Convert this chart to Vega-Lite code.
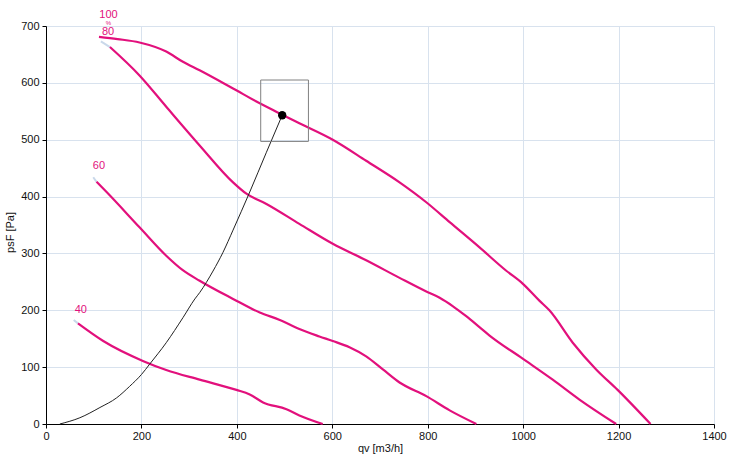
{
  "$schema": "https://vega.github.io/schema/vega-lite/v6.json",
  "width": 668,
  "height": 398,
  "autosize": {"type": "none"},
  "padding": {"left": 46, "top": 26, "right": 18, "bottom": 30},
  "background": "white",
  "config": {
    "view": {"stroke": null},
    "font": "Liberation Sans",
    "axis": {
      "labelFont": "Liberation Sans",
      "titleFont": "Liberation Sans",
      "labelFontSize": 11,
      "titleFontSize": 11,
      "titleFontWeight": "normal",
      "labelColor": "#111",
      "titleColor": "#111",
      "domainColor": "#000",
      "tickColor": "#000",
      "tickSize": 4,
      "gridColor": "#d8e2ee",
      "gridOpacity": 1
    }
  },
  "datasets": {
    "fan": [
      {"s": "100", "q": 111, "p": 681}, {"s": "100", "q": 150, "p": 677}, {"s": "100", "q": 196, "p": 671}, {"s": "100", "q": 252, "p": 655}, {"s": "100", "q": 287, "p": 637}, {"s": "100", "q": 322, "p": 622}, {"s": "100", "q": 392, "p": 590}, {"s": "100", "q": 448, "p": 564}, {"s": "100", "q": 495, "p": 544}, {"s": "100", "q": 531, "p": 529}, {"s": "100", "q": 601, "p": 500}, {"s": "100", "q": 671, "p": 463}, {"s": "100", "q": 741, "p": 425}, {"s": "100", "q": 797, "p": 390}, {"s": "100", "q": 846, "p": 355}, {"s": "100", "q": 908, "p": 311}, {"s": "100", "q": 964, "p": 270}, {"s": "100", "q": 999, "p": 247}, {"s": "100", "q": 1034, "p": 217}, {"s": "100", "q": 1055, "p": 200}, {"s": "100", "q": 1104, "p": 143}, {"s": "100", "q": 1153, "p": 96}, {"s": "100", "q": 1198, "p": 60}, {"s": "100", "q": 1267, "p": 0},
      {"s": "80", "q": 134, "p": 663}, {"s": "80", "q": 196, "p": 613}, {"s": "80", "q": 252, "p": 558}, {"s": "80", "q": 322, "p": 490}, {"s": "80", "q": 392, "p": 425}, {"s": "80", "q": 420, "p": 405}, {"s": "80", "q": 462, "p": 387}, {"s": "80", "q": 531, "p": 352}, {"s": "80", "q": 601, "p": 317}, {"s": "80", "q": 671, "p": 288}, {"s": "80", "q": 741, "p": 257}, {"s": "80", "q": 797, "p": 233}, {"s": "80", "q": 825, "p": 222}, {"s": "80", "q": 853, "p": 207}, {"s": "80", "q": 880, "p": 190}, {"s": "80", "q": 909, "p": 170}, {"s": "80", "q": 929, "p": 156}, {"s": "80", "q": 999, "p": 115}, {"s": "80", "q": 1062, "p": 78}, {"s": "80", "q": 1118, "p": 43}, {"s": "80", "q": 1195, "p": 0},
      {"s": "60", "q": 106, "p": 426}, {"s": "60", "q": 127, "p": 408}, {"s": "60", "q": 196, "p": 346}, {"s": "60", "q": 252, "p": 296}, {"s": "60", "q": 286, "p": 271}, {"s": "60", "q": 322, "p": 252}, {"s": "60", "q": 392, "p": 220}, {"s": "60", "q": 448, "p": 196}, {"s": "60", "q": 490, "p": 183}, {"s": "60", "q": 531, "p": 167}, {"s": "60", "q": 573, "p": 154}, {"s": "60", "q": 601, "p": 146}, {"s": "60", "q": 636, "p": 135}, {"s": "60", "q": 671, "p": 119}, {"s": "60", "q": 706, "p": 96}, {"s": "60", "q": 741, "p": 73}, {"s": "60", "q": 797, "p": 49}, {"s": "60", "q": 846, "p": 24}, {"s": "60", "q": 902, "p": 0},
      {"s": "40", "q": 67, "p": 177}, {"s": "40", "q": 120, "p": 146}, {"s": "40", "q": 203, "p": 111}, {"s": "40", "q": 252, "p": 95}, {"s": "40", "q": 322, "p": 78}, {"s": "40", "q": 399, "p": 60}, {"s": "40", "q": 427, "p": 52}, {"s": "40", "q": 455, "p": 38}, {"s": "40", "q": 504, "p": 26}, {"s": "40", "q": 531, "p": 15}, {"s": "40", "q": 580, "p": 0}
    ],
    "stubs": [
      {"s": "80", "q": 115, "p": 673}, {"s": "80", "q": 134, "p": 663},
      {"s": "60", "q": 99, "p": 434}, {"s": "60", "q": 106, "p": 426},
      {"s": "40", "q": 58, "p": 183}, {"s": "40", "q": 67, "p": 177}
    ],
    "sys": [
      {"q": 29, "p": 0}, {"q": 71, "p": 11}, {"q": 113, "p": 29}, {"q": 148, "p": 46}, {"q": 175, "p": 66}, {"q": 200, "p": 87}, {"q": 217, "p": 105}, {"q": 252, "p": 143}, {"q": 287, "p": 187}, {"q": 312, "p": 220}, {"q": 322, "p": 231}, {"q": 350, "p": 269}, {"q": 371, "p": 302}, {"q": 392, "p": 341}, {"q": 427, "p": 408}, {"q": 462, "p": 478}, {"q": 495, "p": 543}
    ],
    "box": [{"q1": 450, "q2": 550, "p1": 497, "p2": 605}],
    "op": [{"q": 495, "p": 543}],
    "labels": [
      {"t": "100", "q": 131, "p": 720, "fs": 11},
      {"t": "%", "q": 131, "p": 706, "fs": 6},
      {"t": "80", "q": 130, "p": 690, "fs": 11},
      {"t": "60", "q": 111, "p": 453, "fs": 11},
      {"t": "40", "q": 73, "p": 200, "fs": 11}
    ]
  },
  "layer": [
    {
      "data": {"name": "stubs"},
      "mark": {"type": "line", "color": "#c9d8ea", "strokeWidth": 2},
      "encoding": {
        "x": {"field": "q", "type": "quantitative", "scale": {"domain": [0, 1400]},
          "axis": {"values": [0, 200, 400, 600, 800, 1000, 1200, 1400], "format": "d", "title": "qv [m3/h]", "labelPadding": 2, "titlePadding": 1, "labelFlush": false}},
        "y": {"field": "p", "type": "quantitative", "scale": {"domain": [0, 700]},
          "axis": {"values": [0, 100, 200, 300, 400, 500, 600, 700], "format": "d", "title": "psF [Pa]", "labelPadding": 3, "titleX": -36, "titleY": 206, "titleAngle": 270, "titleAlign": "center", "titleBaseline": "middle"}},
        "detail": {"field": "s"}
      }
    },
    {
      "data": {"name": "fan"},
      "mark": {"type": "line", "color": "#e2107c", "strokeWidth": 2.2, "interpolate": "monotone"},
      "encoding": {
        "x": {"field": "q", "type": "quantitative"},
        "y": {"field": "p", "type": "quantitative"},
        "detail": {"field": "s"}
      }
    },
    {
      "data": {"name": "sys"},
      "mark": {"type": "line", "color": "#222", "strokeWidth": 1, "interpolate": "monotone"},
      "encoding": {
        "x": {"field": "q", "type": "quantitative"},
        "y": {"field": "p", "type": "quantitative"}
      }
    },
    {
      "data": {"name": "box"},
      "mark": {"type": "rect", "fill": null, "fillOpacity": 0, "stroke": "#808080", "strokeWidth": 1},
      "encoding": {
        "x": {"field": "q1", "type": "quantitative"},
        "x2": {"field": "q2"},
        "y": {"field": "p1", "type": "quantitative"},
        "y2": {"field": "p2"}
      }
    },
    {
      "data": {"name": "op"},
      "mark": {"type": "point", "filled": true, "color": "#000", "size": 70, "opacity": 1},
      "encoding": {
        "x": {"field": "q", "type": "quantitative"},
        "y": {"field": "p", "type": "quantitative"}
      }
    },
    {
      "data": {"name": "labels"},
      "mark": {"type": "text", "color": "#e2107c", "font": "Liberation Sans", "align": "center", "baseline": "middle"},
      "encoding": {
        "x": {"field": "q", "type": "quantitative"},
        "y": {"field": "p", "type": "quantitative"},
        "text": {"field": "t"},
        "size": {"field": "fs", "type": "quantitative", "scale": null}
      }
    }
  ]
}
